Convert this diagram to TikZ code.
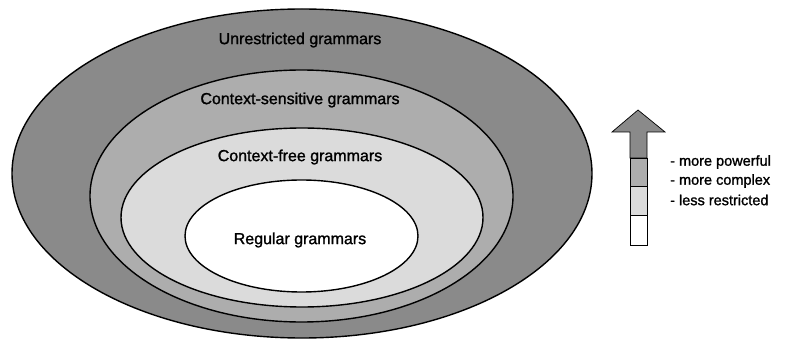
\documentclass[tikz,border=0pt]{standalone}
\usepackage{fontspec}
\setmainfont{Liberation Sans}
% slightly heavier strokes for all labels
\newfontfamily\labelfont{Liberation Sans}[FakeBold=1.3]
\begin{document}
\begin{tikzpicture}[x=1pt,y=-1pt,
  ring/.style={draw=black,line width=1.4pt},
  lbl/.style={font=\labelfont\fontsize{16}{18}\selectfont,inner sep=0pt},
  note/.style={font=\labelfont\fontsize{14.5}{17}\selectfont,inner sep=0pt,anchor=west},
  seg/.style={draw=black,line width=0.7pt}]
\colorlet{shadeA}{black!46}
\colorlet{shadeB}{black!32}
\colorlet{shadeC}{black!14}
\useasboundingbox (0,0) rectangle (785,339);
% nested grammar classes
\fill[ring,fill=shadeA] (302,173.5) ellipse [x radius=290,y radius=164.5];
\fill[ring,fill=shadeB] (301.5,196) ellipse [x radius=211.5,y radius=126];
\fill[ring,fill=shadeC] (302,217.5) ellipse [x radius=181,y radius=89.5];
\fill[ring,fill=white] (301.5,236) ellipse [x radius=116.5,y radius=56];
\node[lbl] (unr) at (300,40) {Unrestricted grammars};
\node[lbl] (cs) at (300,100) {Context-sensitive grammars};
\node[lbl] (cf) at (300,157) {Context-free grammars};
\node[lbl] (reg) at (300,240) {Regular grammars};
% legend arrow, shaded like the classes
\filldraw[seg,fill=shadeA] (638,110) -- (665,132) -- (647,132) -- (647,158) -- (630,158) -- (630,132) -- (612,132) -- cycle;
\filldraw[seg,fill=shadeB] (630,158) rectangle (647,186);
\filldraw[seg,fill=shadeC] (630,186) rectangle (647,215);
\filldraw[seg,fill=white] (630,215) rectangle (647,245);
\node[note] (p) at (670,162) {- more powerful};
\node[note] (c) at (670,181) {- more complex};
\node[note] (l) at (670,200) {- less restricted};
\end{tikzpicture}
\end{document}
